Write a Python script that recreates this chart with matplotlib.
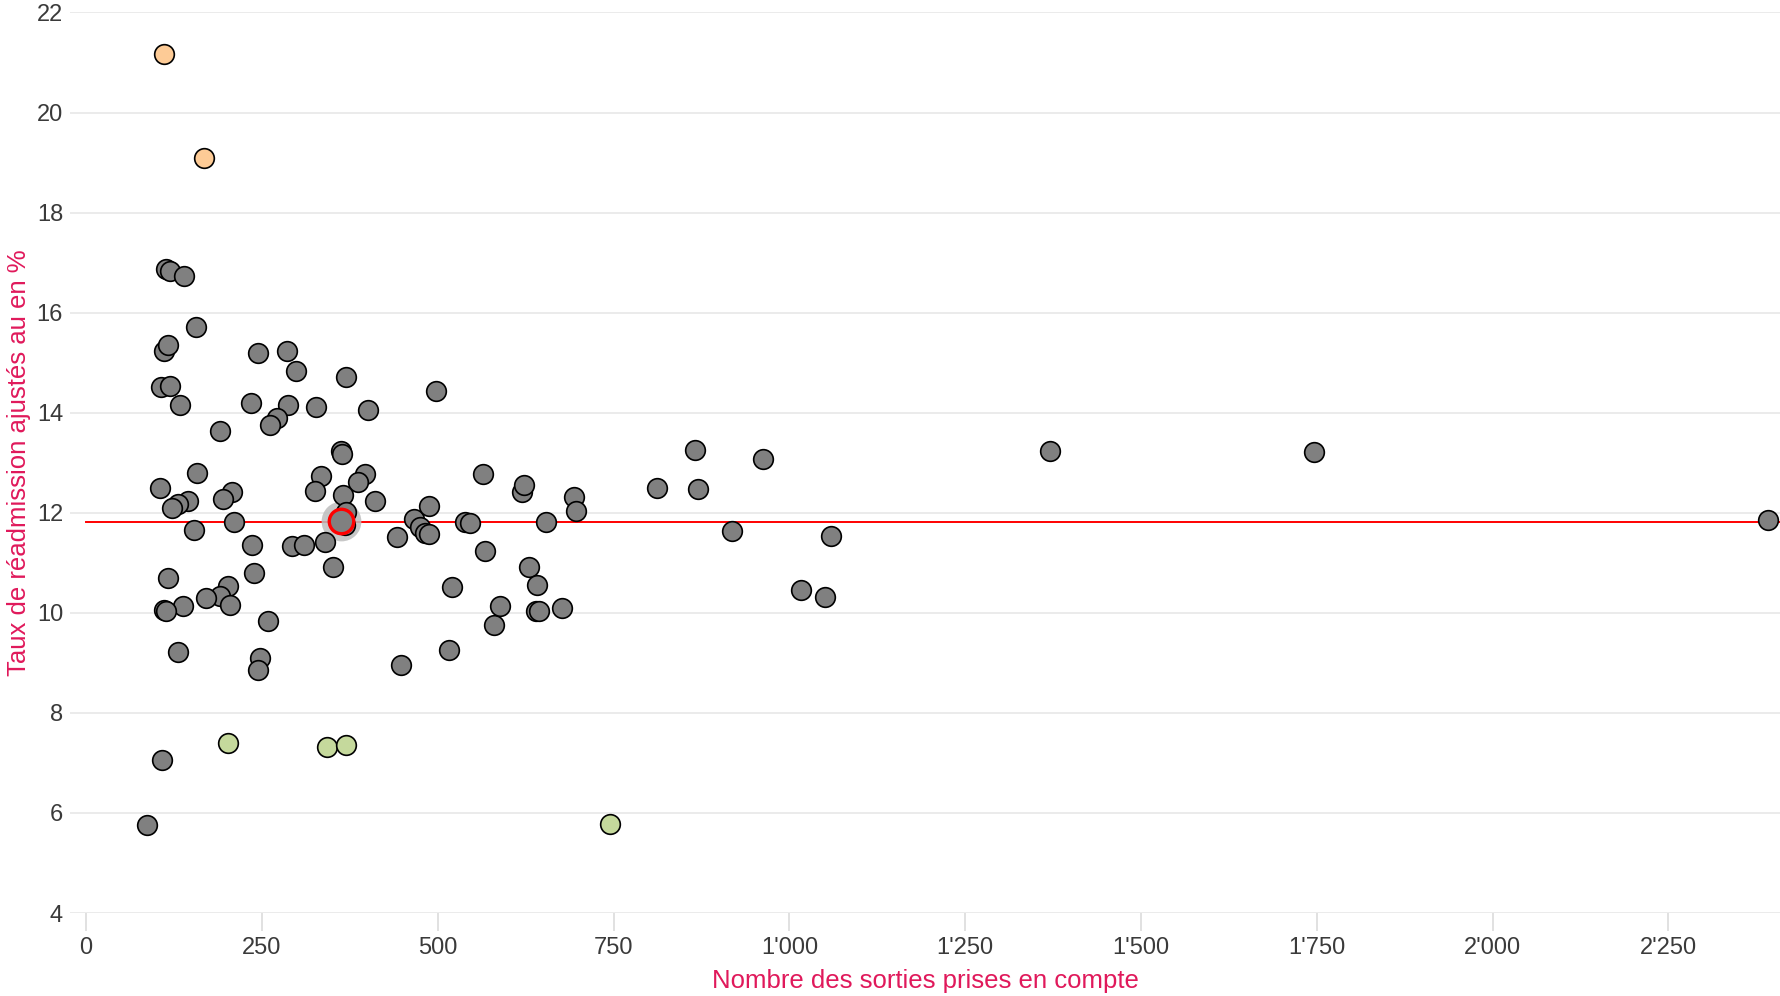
import matplotlib
matplotlib.use("Agg")
import matplotlib.pyplot as plt
from matplotlib.ticker import FuncFormatter

plt.rcParams['font.family'] = ['Liberation Sans', 'DejaVu Sans']

# Gray points: (sorties, taux)
gray_x = [86, 108, 113, 119, 139, 156, 110, 116, 107, 119, 133, 191, 234, 245, 285,
          298, 287, 327, 272, 261, 369, 401, 497, 363, 364, 334, 325, 396, 387, 365,
          410, 370, 157, 105, 208, 145, 131, 122, 195, 210, 153, 236, 292, 310, 339,
          351, 117, 239, 202, 190, 171, 205, 137, 110, 114, 259, 131, 247, 245, 442,
          448, 466, 475, 482, 487, 487, 520, 516, 539, 546, 564, 567, 580, 589, 620,
          623, 629, 641, 640, 644, 654, 677, 694, 697, 811, 866, 870, 919, 962, 1016,
          1050, 1059, 1371, 1746, 2392, 368]
gray_y = [5.76, 7.05, 16.87, 16.83, 16.74, 15.71, 15.24, 15.35, 14.51, 14.54, 14.15, 13.63, 14.20, 15.19, 15.24,
          14.83, 14.16, 14.11, 13.90, 13.75, 14.71, 14.05, 14.43, 13.24, 13.17, 12.73, 12.44, 12.78, 12.61, 12.35,
          12.23, 12.01, 12.79, 12.49, 12.42, 12.23, 12.18, 12.10, 12.27, 11.81, 11.66, 11.36, 11.33, 11.35, 11.42,
          10.92, 10.70, 10.80, 10.54, 10.33, 10.29, 10.16, 10.13, 10.06, 10.03, 9.83, 9.21, 9.10, 8.86, 11.51,
          8.95, 11.87, 11.72, 11.59, 11.57, 12.13, 10.52, 9.25, 11.81, 11.80, 12.78, 11.24, 9.75, 10.14, 12.42,
          12.56, 10.91, 10.56, 10.04, 10.03, 11.82, 10.09, 12.32, 12.04, 12.49, 13.25, 12.48, 11.63, 13.08, 10.45,
          10.32, 11.53, 13.24, 13.21, 11.86, 11.76]

# Significantly higher (orange)
high_x = [111, 168]
high_y = [21.17, 19.10]

# Significantly lower (green)
low_x = [202, 342, 370, 745]
low_y = [7.40, 7.32, 7.36, 5.77]

# Highlighted hospital
hl_x = [362]
hl_y = [11.84]

# Mean rate
mean_rate = 11.82

x_ticks = [0, 250, 500, 750, 1000, 1250, 1500, 1750, 2000, 2250]
y_ticks = [4, 6, 8, 10, 12, 14, 16, 18, 20, 22]
x_label = "Nombre des sorties prises en compte"
y_label = "Taux de réadmission ajustés au en %"

W, H = 1781, 996
fig = plt.figure(figsize=(W / 100, H / 100), dpi=100)
ax = fig.add_axes([70 / W, 1 - 913 / H, (W - 70) / W, (913 - 12.5) / H])

xmin, xmax = -23, 2410
ax.set_xlim(xmin, xmax)
ax.set_ylim(4, 22)

for yt in y_ticks:
    ax.axhline(yt, color='#E5E5E5', lw=1.1, zorder=0)

ax.plot([0, xmax], [mean_rate, mean_rate], color='#FF0000', lw=1.4, zorder=1)

edge_lw = 1.2
size = 200
# halo behind highlight
ax.scatter(hl_x, hl_y, s=820, color='#BEBEBE', alpha=0.85, lw=0, zorder=2)
ax.scatter(gray_x, gray_y, s=size, facecolor='#808080', edgecolor='black', lw=edge_lw, zorder=3)
ax.scatter(high_x, high_y, s=size, facecolor='#FDCB96', edgecolor='black', lw=edge_lw, zorder=3)
ax.scatter(low_x, low_y, s=size, facecolor='#C5D99C', edgecolor='black', lw=edge_lw, zorder=3)
ax.scatter(hl_x, hl_y, s=310, facecolor='#808080', edgecolor='#FF0000', lw=2.4, zorder=4)

ax.set_xticks(x_ticks)
ax.set_yticks(y_ticks)
ax.xaxis.set_major_formatter(FuncFormatter(lambda v, p: f"{int(v):,}".replace(",", "'")))
ax.yaxis.set_major_formatter(FuncFormatter(lambda v, p: f"{int(v)}"))
ax.tick_params(axis='x', length=13, width=1.1, color='#D9D9D9', labelsize=17, labelcolor='#3A3A3A', pad=4)
ax.tick_params(axis='y', length=0, labelsize=17, labelcolor='#3A3A3A', pad=5)
for s in ax.spines.values():
    s.set_visible(False)

fig.text(925 / W, 1 - 981 / H, x_label, ha='center', va='center', fontsize=18.5, color='#E0195B')
fig.text(19 / W, 1 - 463 / H, y_label, ha='center', va='center', rotation=90, fontsize=18.5, color='#E0195B')

fig.savefig("out.png", dpi=100)
